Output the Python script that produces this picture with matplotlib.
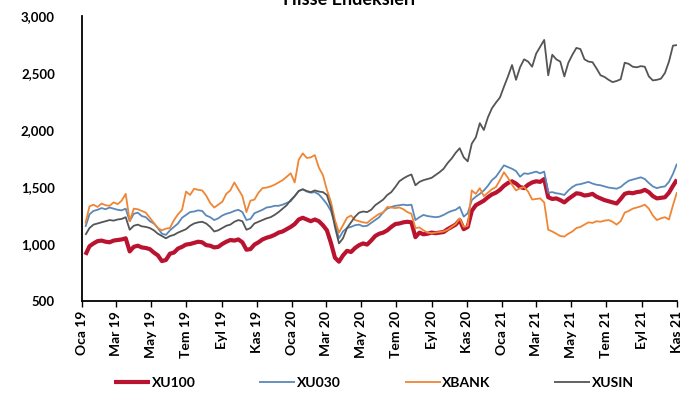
import matplotlib
matplotlib.use("Agg")
import matplotlib.pyplot as plt
import matplotlib.ticker as mticker
import pandas as pd

plt.rcParams['font.family'] = ['Lato', 'DejaVu Sans']

# weekly observations (Mondays), Jan 2019 - Nov 2021
dates = pd.date_range('2019-01-07', '2021-11-01', freq='W-MON')

xu100 = [905, 980, 1005, 1025, 1030, 1020, 1015, 1030, 1035, 1040,
         1050, 935, 975, 985, 970, 965, 955, 925, 900, 850,
         860, 915, 925, 960, 975, 995, 1000, 1010, 1020, 1015,
         990, 985, 970, 975, 1000, 1020, 1035, 1030, 1040, 1015,
         950, 955, 995, 1015, 1040, 1055, 1065, 1080, 1100, 1110,
         1130, 1150, 1175, 1215, 1230, 1215, 1200, 1215, 1200, 1165,
         1120, 1010, 880, 845, 900, 940, 930, 965, 990, 1005,
         995, 1030, 1070, 1090, 1100, 1120, 1150, 1175, 1180, 1190,
         1195, 1190, 1060, 1100, 1085, 1090, 1100, 1095, 1100, 1105,
         1130, 1150, 1170, 1210, 1130, 1150, 1290, 1340, 1360, 1380,
         1410, 1435, 1450, 1475, 1510, 1535, 1550, 1530, 1500, 1490,
         1520, 1540, 1550, 1545, 1570, 1410, 1395, 1400, 1385, 1365,
         1395, 1420, 1445, 1440, 1425, 1430, 1440, 1415, 1400, 1385,
         1375, 1365, 1355, 1395, 1440, 1450, 1445, 1455, 1460, 1475,
         1455, 1420, 1400, 1405, 1410, 1450, 1510, 1565]

xu030 = [1150, 1260, 1290, 1300, 1315, 1305, 1320, 1310, 1300, 1295,
         1310, 1200, 1265, 1275, 1245, 1235, 1200, 1180, 1140, 1090,
         1080, 1120, 1150, 1180, 1230, 1255, 1280, 1285, 1295, 1290,
         1250, 1235, 1210, 1225, 1250, 1265, 1275, 1290, 1300, 1280,
         1210, 1220, 1270, 1285, 1300, 1320, 1325, 1335, 1335, 1345,
         1360, 1375, 1420, 1465, 1480, 1460, 1450, 1455, 1435, 1395,
         1350, 1290, 1180, 1050, 1110, 1140, 1150, 1165, 1170, 1155,
         1160, 1185, 1210, 1235, 1280, 1310, 1325, 1335, 1340, 1345,
         1340, 1345, 1210, 1235, 1255, 1245, 1240, 1235, 1240, 1255,
         1275, 1290, 1300, 1325, 1240, 1270, 1385, 1415, 1440, 1470,
         1510, 1560, 1590, 1640, 1690, 1675, 1660, 1640, 1590, 1620,
         1615, 1625, 1635, 1620, 1635, 1450, 1455, 1445, 1440, 1430,
         1470, 1500, 1520, 1525, 1535, 1545, 1530, 1520, 1515, 1505,
         1495, 1490, 1485, 1500, 1530, 1555, 1565, 1575, 1585, 1570,
         1535, 1505, 1490, 1500, 1505, 1545, 1615, 1705]

xbank = [1180, 1330, 1345, 1325, 1355, 1340, 1335, 1365, 1350, 1380,
         1440, 1200, 1310, 1305, 1290, 1275, 1230, 1185, 1140, 1120,
         1135, 1140, 1210, 1260, 1300, 1460, 1430, 1485, 1475, 1470,
         1425, 1360, 1320, 1345, 1370, 1440, 1470, 1540, 1480, 1420,
         1280, 1380, 1390, 1450, 1490, 1495, 1505, 1520, 1540, 1560,
         1590, 1620, 1540, 1740, 1795, 1755, 1760, 1780, 1670, 1605,
         1475, 1370, 1210, 1100, 1165, 1230, 1250, 1210, 1200, 1190,
         1185, 1215, 1240, 1265, 1275, 1325, 1320, 1315, 1320, 1305,
         1280, 1265, 1140, 1145, 1120, 1100, 1095, 1100, 1105, 1110,
         1125, 1150, 1175, 1225, 1150, 1160, 1470, 1440, 1490, 1420,
         1450, 1480, 1500, 1560, 1630, 1580, 1520, 1470, 1490, 1500,
         1460, 1390, 1395, 1400, 1365, 1125, 1110, 1090, 1070, 1065,
         1090, 1110, 1140, 1150, 1170, 1190, 1185, 1200, 1195, 1205,
         1210, 1195, 1170, 1200, 1275, 1290, 1310, 1320, 1330, 1345,
         1310, 1250, 1210, 1225, 1235, 1215, 1340, 1455]

xusin = [1080, 1140, 1170, 1180, 1190, 1200, 1210, 1205, 1215, 1220,
         1235, 1125, 1160, 1170, 1155, 1150, 1140, 1120, 1090, 1070,
         1050, 1070, 1080, 1100, 1115, 1130, 1160, 1180, 1190, 1195,
         1180, 1150, 1110, 1120, 1140, 1160, 1170, 1195, 1210, 1200,
         1125, 1140, 1180, 1195, 1210, 1225, 1235, 1255, 1280, 1310,
         1340, 1385, 1420, 1465, 1480, 1465, 1455, 1470, 1460, 1455,
         1430, 1320, 1150, 1005, 1050, 1140, 1190, 1240, 1275, 1285,
         1280, 1300, 1340, 1365, 1390, 1430, 1455, 1500, 1550, 1575,
         1595, 1610, 1515, 1545, 1560, 1570, 1580, 1605, 1630, 1660,
         1710, 1750, 1800, 1840, 1760, 1725, 1880, 1935, 2060, 2000,
         2110, 2190, 2240, 2285, 2380, 2470, 2570, 2440, 2550, 2620,
         2600, 2555, 2670, 2730, 2790, 2480, 2660, 2620, 2600, 2470,
         2590, 2660, 2720, 2710, 2620, 2600, 2595, 2540, 2480, 2465,
         2440, 2420, 2430, 2445, 2590, 2580, 2555, 2550, 2560, 2555,
         2470, 2435, 2440, 2450, 2500, 2600, 2740, 2745]

series_names = ['XU100', 'XU030', 'XBANK', 'XUSIN']
tick_dates = pd.to_datetime(['2019-01-01', '2019-03-01', '2019-05-01', '2019-07-01',
                             '2019-09-01', '2019-11-01', '2020-01-01', '2020-03-01',
                             '2020-05-01', '2020-07-01', '2020-09-01', '2020-11-01',
                             '2021-01-01', '2021-03-01', '2021-05-01', '2021-07-01',
                             '2021-09-01', '2021-11-01'])
tick_labels = ['Oca 19', 'Mar 19', 'May 19', 'Tem 19', 'Eyl 19', 'Kas 19',
               'Oca 20', 'Mar 20', 'May 20', 'Tem 20', 'Eyl 20', 'Kas 20',
               'Oca 21', 'Mar 21', 'May 21', 'Tem 21', 'Eyl 21', 'Kas 21']
title = 'Hisse Endeksleri'

colors = ['#BA1330', '#5A88B8', '#EF8634', '#555555']
widths = [3.0, 1.3, 1.3, 1.3]

fig = plt.figure(figsize=(6.99, 4.01), dpi=100)
ax = fig.add_axes([82/699, 1 - 301/401, (677 - 82)/699, (301 - 16)/401])

for vals, name, c, w in zip([xu100, xu030, xbank, xusin], series_names, colors, widths):
    ax.plot(dates, vals, color=c, lw=w, label=name, solid_capstyle='butt')

ax.set_xlim(pd.Timestamp('2019-01-01'), pd.Timestamp('2021-11-01'))
ax.set_ylim(500, 3000)
ax.yaxis.set_major_locator(mticker.MultipleLocator(500))
ax.yaxis.set_major_formatter(mticker.FuncFormatter(lambda v, p: f'{int(v):,}'))
ax.set_xticks(tick_dates)
ax.set_xticklabels(tick_labels, rotation=90, fontsize=10, fontweight='bold')
for lab in ax.get_yticklabels():
    lab.set_fontweight('bold')
    lab.set_fontsize(9.5)

ax.tick_params(axis='y', length=0, pad=19.5)
ax.tick_params(axis='x', length=4, width=1, direction='out', pad=3, color='black')
for s in ['top', 'right']:
    ax.spines[s].set_visible(False)
for s in ['left', 'bottom']:
    ax.spines[s].set_linewidth(1.3)
    ax.spines[s].set_color('black')

fig.text(0.5, 1 - 5/401, title, ha='center', va='baseline', fontsize=13, fontweight='bold')

leg = fig.legend(loc='center', bbox_to_anchor=(374/699, 1 - 383/401), ncol=4, frameon=False,
                 handlelength=2.6, handletextpad=0.1, columnspacing=4.6,
                 prop={'weight': 'bold', 'size': 10})

fig.savefig('out.png', dpi=100)
